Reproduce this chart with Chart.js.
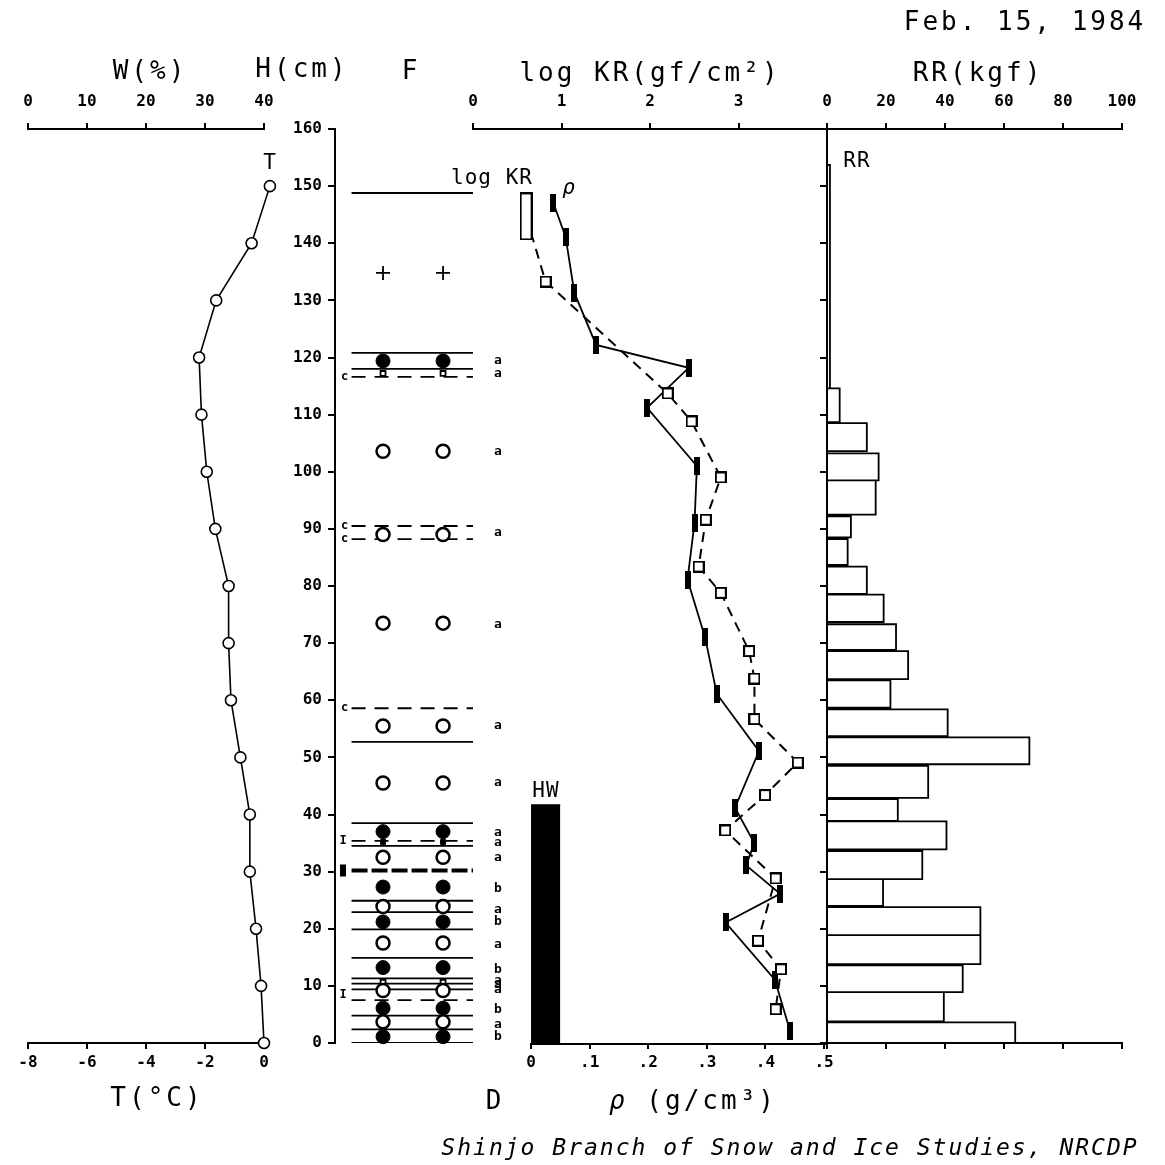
<!DOCTYPE html>
<html>
<head>
<meta charset="utf-8">
<script src="https://cdn.jsdelivr.net/npm/chart.js@4.4.1/dist/chart.umd.min.js"></script>
<style>
  html, body { margin: 0; padding: 0; background: #fff; }
  #page { position: relative; width: 1165px; height: 1165px; overflow: hidden; background: #fff; }
  #page canvas { position: absolute; left: 0; top: 0; width: 1165px; height: 1165px; }
  .t { position: absolute; transform: translate(-50%, -50%); white-space: nowrap; color: #000;
       font-family: "DejaVu Sans Mono", monospace; font-size: 26px; letter-spacing: 3px; line-height: 1; }
  .s { font-size: 21px; letter-spacing: 1px; }
  .i { font-style: italic; }
</style>
</head>
<body>
<div id="page">
  <canvas id="cT" width="1165" height="1165"></canvas>
  <canvas id="cF" width="1165" height="1165"></canvas>
  <canvas id="cK" width="1165" height="1165"></canvas>
  <canvas id="cR" width="1165" height="1165"></canvas>

  <div class="t" style="left:1025px;top:21px">Feb. 15, 1984</div>
  <div class="t" style="left:150px;top:70px">W(%)</div>
  <div class="t" style="left:302px;top:68px">H(cm)</div>
  <div class="t" style="left:411px;top:70px">F</div>
  <div class="t" style="left:650px;top:72px">log KR(gf/cm²)</div>
  <div class="t" style="left:978px;top:72px">RR(kgf)</div>
  <div class="t" style="left:157px;top:1097px">T(°C)</div>
  <div class="t" style="left:495px;top:1100px">D</div>
  <div class="t" style="left:693px;top:1100px"><span class="i">ρ</span> (g/cm³)</div>
  <div class="t i" style="left:790px;top:1147px;font-size:23px;letter-spacing:2px">Shinjo Branch of Snow and Ice Studies, NRCDP</div>
  <div class="t s" style="left:270px;top:162px">T</div>
  <div class="t s" style="left:492px;top:177px">log KR</div>
  <div class="t s i" style="left:569px;top:187px">ρ</div>
  <div class="t s" style="left:546px;top:790px">HW</div>
  <div class="t s" style="left:857px;top:160px">RR</div>
</div>
<script>
// snow temperature profile
const tempHeights = [0, 10, 20, 30, 40, 50, 60, 70, 80, 90, 100, 110, 120, 130, 140, 150];
const snowTemp = [0, -0.1, -0.27, -0.48, -0.48, -0.8, -1.12, -1.2, -1.2, -1.65, -1.94, -2.12, -2.2, -1.62, -0.42, 0.2];

// density (solid line)
const rhoHeights = [147.1, 141.1, 131.3, 122.2, 118.2, 111.2, 101, 91.1, 81.1, 71, 61.1, 51.1, 41.2, 35, 31.1, 26.1, 21.1, 11.1, 2.1];
const rhoValues = [0.038, 0.059, 0.074, 0.111, 0.269, 0.198, 0.283, 0.279, 0.267, 0.297, 0.317, 0.389, 0.348, 0.381, 0.367, 0.425, 0.332, 0.416, 0.442];
const rhoTicks = [0, 0.1, 0.2, 0.3, 0.4, 0.5];

// hardness log KR (dashed line)
const krHeights = [144.7, 133.3, 113.7, 108.8, 99, 91.6, 83.4, 78.8, 68.6, 63.8, 56.7, 49.1, 43.4, 37.2, 28.8, 17.9, 12.9, 5.9];
const logKR = [0.6, 0.82, 2.2, 2.47, 2.8, 2.63, 2.55, 2.8, 3.12, 3.18, 3.18, 3.67, 3.3, 2.85, 3.42, 3.22, 3.48, 3.42];

// HW layer
const hwTop = 41.7;
const hwRho = 0.05;

// ram resistance RR, per height interval
const rrLow = [0, 3.8, 8.9, 13.8, 18.9, 24.0, 28.7, 33.9, 38.9, 42.9, 48.8, 53.7, 58.7, 63.7, 68.8, 73.7, 78.6, 83.7, 88.5, 92.5, 98.5, 103.6, 108.7, 114.6];
const rrHigh = [3.6, 8.9, 13.6, 18.9, 23.8, 28.7, 33.6, 38.8, 42.7, 48.5, 53.5, 58.4, 63.5, 68.6, 73.3, 78.5, 83.4, 88.2, 92.2, 98.5, 103.2, 108.5, 114.6, 153.7];
const rrValues = [63.8, 39.6, 46, 52, 52, 19, 32.3, 40.5, 24, 34.3, 68.6, 40.9, 21.5, 27.5, 23.4, 19.2, 13.5, 7, 8.1, 16.5, 17.5, 13.5, 4.3, 1.0];

// stratigraphy (F column)
const layerSolid = [148.8, 120.8, 118.0, 52.7, 38.5, 34.5, 24.9, 22.9, 19.9, 14.9, 11.3, 10.4, 9.4, 4.8, 2.4, 0];
const layerDashed = [116.6, 90.5, 88.2, 58.6, 35.4, 7.5];
const layerCrust = [30.2];
const grainOpen = [103.6, 89.0, 73.5, 55.5, 45.5, 32.5, 23.9, 17.5, 9.2, 3.7];
const grainFilled = [119.4, 37.0, 27.3, 21.2, 13.2, 6.1, 1.1];
const grainPlus = [134.8];
const grainSmallOpen = [117.2, 10.6];
const grainSmallFilled = [35.2];
const hardHeights = [119.4, 117.1, 103.6, 89.3, 73.3, 55.5, 45.5, 36.9, 35.1, 32.4, 27.1, 23.3, 21.2, 17.3, 12.9, 11.0, 10.2, 9.3, 5.9, 3.2, 1.1];
const hardLetters = ['a', 'a', 'a', 'a', 'a', 'a', 'a', 'a', 'a', 'a', 'b', 'a', 'b', 'a', 'b', 'a', 'a', 'a', 'b', 'a', 'b'];
const cMarks = [116.6, 90.5, 88.2, 58.6];
const iMarks = [35.4, 8.4];

// layout of the F column (fractions of its width)
const colA = 0.348, colB = 0.783, lineFrom = 0.12, lineTo = 1.0, colLetter = 1.18, colMark = 0.07;

const black = '#000';
const tickFont = { family: 'DejaVu Sans Mono', size: 16, weight: 'bold' };

const xAxis = (position, min, max, step, more = {}) => ({
  type: 'linear', axis: 'x', position, min, max,
  ticks: Object.assign({ stepSize: step, color: black, font: tickFont, padding: position === 'top' ? 12 : 4, maxRotation: 0, autoSkip: false }, more.ticks),
  grid: { drawOnChartArea: false, color: black, lineWidth: 2, tickLength: 6 },
  border: Object.assign({ color: black, width: 2 }, more.border),
  afterBuildTicks: more.afterBuildTicks,
  afterFit: s => { s.height = position === 'top' ? 80 : 60; }
});
const hiddenY = { type: 'linear', axis: 'y', min: 0, max: 160, display: false };

const baseOptions = (padding, scales) => ({
  responsive: false, animation: false, events: [],
  layout: { padding },
  plugins: { legend: { display: false }, tooltip: { enabled: false } },
  scales
});

const hLines = (list) => list.flatMap(h => [{ x: lineFrom, y: h }, { x: lineTo, y: h }, { x: null, y: null }]);
const twoCols = (list) => list.flatMap(h => [{ x: colA, y: h }, { x: colB, y: h }]);

const markCanvas = (w, h, fill) => {
  const c = document.createElement('canvas');
  c.width = w; c.height = h;
  const g = c.getContext('2d');
  g.fillStyle = fill; g.fillRect(0, 0, w, h);
  g.strokeStyle = black; g.lineWidth = 2; g.strokeRect(1, 1, w - 2, h - 2);
  return c;
};
const rhoMark = markCanvas(6, 18, black);
const krMark = markCanvas(12, 12, '#fff');
const krTopMark = markCanvas(13, 48, '#fff');

// T / W panel
new Chart(document.getElementById('cT'), {
  type: 'scatter',
  data: {
    datasets: [{
      xAxisID: 'xT', yAxisID: 'y',
      data: tempHeights.map((h, i) => ({ x: snowTemp[i], y: h })),
      showLine: true, borderColor: black, borderWidth: 1.6,
      pointRadius: 5.5, pointHoverRadius: 10, pointBackgroundColor: '#fff', pointBorderColor: black, pointBorderWidth: 1.6,
      clip: false
    }]
  },
  options: baseOptions({ top: 49, bottom: 62, left: 28, right: 901 }, {
    xT: xAxis('bottom', -8, 0, 2),
    xW: xAxis('top', 0, 40, 10),
    y: hiddenY
  })
});

// F column with H axis
const pitMarks = {
  id: 'pitMarks',
  afterDatasetsDraw(chart) {
    const { ctx, scales: { x, y } } = chart;
    ctx.save();
    ctx.fillStyle = black;
    ctx.textAlign = 'center';
    ctx.textBaseline = 'middle';
    ctx.font = 'bold 13px "DejaVu Sans Mono"';
    hardHeights.forEach((h, i) => ctx.fillText(hardLetters[i], x.getPixelForValue(colLetter), y.getPixelForValue(h)));
    ctx.font = 'bold 12px "DejaVu Sans Mono"';
    cMarks.forEach(h => ctx.fillText('c', x.getPixelForValue(colMark), y.getPixelForValue(h)));
    iMarks.forEach(h => ctx.fillText('I', x.getPixelForValue(colMark - 0.012), y.getPixelForValue(h)));
    layerCrust.forEach(h => ctx.fillRect(x.getPixelForValue(colMark - 0.012) - 3, y.getPixelForValue(h) - 6, 6, 12));
    ctx.restore();
  }
};
const grainStyle = { xAxisID: 'x', yAxisID: 'y', pointBorderColor: black, clip: false };
new Chart(document.getElementById('cF'), {
  type: 'scatter',
  data: {
    datasets: [
      Object.assign({ data: twoCols(grainOpen), pointRadius: 6.5, pointBackgroundColor: '#fff', pointBorderWidth: 2.5 }, grainStyle),
      Object.assign({ data: twoCols(grainFilled), pointRadius: 7, pointBackgroundColor: black, pointBorderWidth: 1 }, grainStyle),
      Object.assign({ data: twoCols(grainPlus), pointStyle: 'cross', pointRadius: 7, pointBorderWidth: 1.8 }, grainStyle),
      Object.assign({ data: twoCols(grainSmallOpen), pointStyle: 'rect', pointRadius: 3.5, pointBackgroundColor: '#fff', pointBorderWidth: 1.8 }, grainStyle),
      Object.assign({ data: twoCols(grainSmallFilled), pointStyle: 'rect', pointRadius: 3.5, pointBackgroundColor: black, pointBorderWidth: 1 }, grainStyle),
      { data: hLines(layerSolid), showLine: true, borderColor: black, borderWidth: 1.8, pointRadius: 0 },
      { data: hLines(layerDashed), showLine: true, borderColor: black, borderWidth: 1.8, borderDash: [14, 9], pointRadius: 0 },
      { data: hLines(layerCrust), showLine: true, borderColor: black, borderWidth: 4, borderDash: [16, 4], pointRadius: 0 }
    ]
  },
  options: baseOptions({ top: 129, bottom: 122, left: 275, right: 692 }, {
    x: { type: 'linear', min: 0, max: 1, display: false },
    y: {
      type: 'linear', position: 'left', min: 0, max: 160,
      ticks: { stepSize: 10, color: black, font: tickFont, padding: 6 },
      grid: { drawOnChartArea: false, color: black, lineWidth: 2, tickLength: 7 },
      border: { color: black, width: 2 },
      afterFit: s => { s.width = 60; }
    }
  }),
  plugins: [pitMarks]
});

// log KR / density panel
const rhoBaseline = {
  id: 'rhoBaseline',
  afterDraw(chart) {
    const s = chart.scales.xD;
    const ctx = chart.ctx;
    ctx.save();
    ctx.strokeStyle = black;
    ctx.lineWidth = 2;
    ctx.beginPath();
    ctx.moveTo(s.getPixelForValue(0) - 1, s.top + 1);
    ctx.lineTo(s.right, s.top + 1);
    ctx.stroke();
    ctx.restore();
  }
};
new Chart(document.getElementById('cK'), {
  type: 'scatter',
  data: {
    datasets: [
      {
        xAxisID: 'xK', yAxisID: 'y',
        data: krHeights.map((h, i) => ({ x: logKR[i], y: h })),
        showLine: true, borderColor: black, borderWidth: 2, borderDash: [10, 7],
        pointStyle: logKR.map((v, i) => i === 0 ? krTopMark : krMark), pointRadius: 6
      },
      {
        xAxisID: 'xD', yAxisID: 'y',
        data: rhoHeights.map((h, i) => ({ x: rhoValues[i], y: h })),
        showLine: true, borderColor: black, borderWidth: 1.8,
        pointStyle: rhoMark, pointRadius: 6
      },
      {
        xAxisID: 'xD', yAxisID: 'y',
        data: [{ x: 0, y: hwTop }, { x: hwRho, y: hwTop }],
        showLine: true, fill: 'origin', backgroundColor: black, borderColor: black, borderWidth: 1, pointRadius: 0
      }
    ]
  },
  options: baseOptions({ top: 49, bottom: 62, left: 473, right: 338 }, {
    xK: xAxis('top', 0, 4, 1, { ticks: { callback: v => v < 4 ? String(v) : '' } }),
    xD: xAxis('bottom', -0.099, 0.505, 0.1, {
      ticks: { callback: v => v === 0 ? '0' : '.' + Math.round(v * 10) },
      border: { display: false },
      afterBuildTicks: s => { s.ticks = rhoTicks.map(v => ({ value: v })); }
    }),
    y: hiddenY
  }),
  plugins: [rhoBaseline]
});

// RR panel
const rrOutline = rrValues.flatMap((v, i) => [
  { x: 0, y: rrLow[i] }, { x: v, y: rrLow[i] }, { x: v, y: rrHigh[i] }, { x: 0, y: rrHigh[i] }, { x: null, y: null }
]);
new Chart(document.getElementById('cR'), {
  type: 'scatter',
  data: {
    datasets: [{
      xAxisID: 'xR', yAxisID: 'yR',
      data: rrOutline,
      showLine: true, borderColor: black, borderWidth: 1.8, pointRadius: 0, clip: false
    }]
  },
  options: baseOptions({ top: 49, bottom: 62, left: 817, right: 43 }, {
    xR: xAxis('top', 0, 100, 20),
    xB: xAxis('bottom', 0, 100, 20, { ticks: { display: false } }),
    yR: {
      type: 'linear', axis: 'y', position: 'left', min: 0, max: 160,
      ticks: { stepSize: 10, display: false },
      grid: { drawOnChartArea: false, color: black, lineWidth: 2, tickLength: 7 },
      border: { color: black, width: 2 },
      afterFit: s => { s.width = 10; }
    }
  })
});
</script>
</body>
</html>
